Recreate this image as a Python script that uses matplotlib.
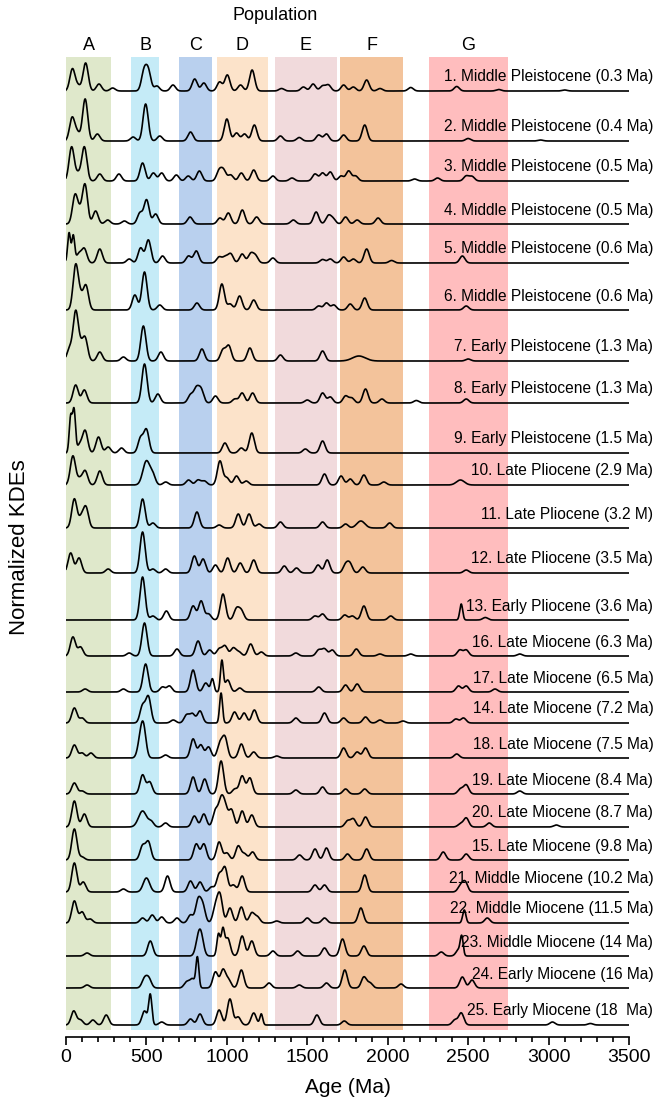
import numpy as np
import matplotlib
matplotlib.use("Agg")
import matplotlib.pyplot as plt

plt.rcParams['font.family'] = ['Liberation Sans', 'DejaVu Sans']

# population bands (Ma)
band_names = ['A', 'B', 'C', 'D', 'E', 'F', 'G']
band_start = [0, 405, 702, 936, 1298, 1702, 2255]
band_end = [281, 579, 905, 1255, 1683, 2098, 2745]
band_colors = ['#dfe8cb', '#c5ebf7', '#b9d0ee', '#fce3ca', '#f1dadc', '#f3c39b', '#ffbdbe']

# sample labels, top to bottom
sample_labels = [
    '1. Middle Pleistocene (0.3 Ma)', '2. Middle Pleistocene (0.4 Ma)',
    '3. Middle Pleistocene (0.5 Ma)', '4. Middle Pleistocene (0.5 Ma)',
    '5. Middle Pleistocene (0.6 Ma)', '6. Middle Pleistocene (0.6 Ma)',
    '7. Early Pleistocene (1.3 Ma)', '8. Early Pleistocene (1.3 Ma)',
    '9. Early Pleistocene (1.5 Ma)', '10. Late Pliocene (2.9 Ma)',
    '11. Late Pliocene (3.2 M)', '12. Late Pliocene (3.5 Ma)',
    '13. Early Pliocene (3.6 Ma)', '16. Late Miocene (6.3 Ma)',
    '17. Late Miocene (6.5 Ma)', '14. Late Miocene (7.2 Ma)',
    '18. Late Miocene (7.5 Ma)', '19. Late Miocene (8.4 Ma)',
    '20. Late Miocene (8.7 Ma)', '15. Late Miocene (9.8 Ma)',
    '21. Middle Miocene (10.2 Ma)', '22. Middle Miocene (11.5 Ma)',
    '23. Middle Miocene (14 Ma)', '24. Early Miocene (16 Ma)',
    '25. Early Miocene (18  Ma)',
]

# vertical offset of each curve
offsets = [946, 896, 856, 813, 774, 727, 676, 634, 584, 552, 509, 464, 417,
           381, 345, 314, 279, 243, 210, 177, 145, 114, 81, 49, 12]

# KDE peaks: (age Ma, height[, bandwidth])
p01 = [(40, 22), (75, 5), (122, 28), (205, 7), (290, 3), (485, 19), (512, 19), (565, 5), (665, 6),
       (800, 12), (857, 8), (955, 9), (1003, 16), (1085, 6), (1157, 21), (1340, 2.5), (1476, 4),
       (1536, 7), (1595, 5), (1631, 6), (1726, 6), (1786, 4), (1869, 11), (1952, 2.5), (2143, 3.5),
       (2429, 4.5), (2690, 1.5), (3100, 1)]
p02 = [(38, 23), (70, 8), (119, 42), (195, 7), (417, 4), (495, 37), (583, 5), (774, 9), (1000, 22),
       (1060, 8), (1110, 7), (1171, 16), (1333, 5), (1450, 3.5), (1571, 6), (1619, 7), (1726, 6),
       (1857, 16), (2500, 2.5), (2950, 1)]
p03 = [(35, 34), (75, 7), (114, 34), (210, 7), (329, 7), (476, 18), (543, 8), (595, 8), (686, 6),
       (760, 5), (829, 10), (952, 10), (980, 10), (1024, 6), (1090, 8), (1167, 11), (1286, 5),
       (1405, 3), (1548, 7), (1595, 8), (1643, 9), (1710, 5), (1757, 10), (1800, 5), (2167, 2),
       (2310, 3), (2488, 5), (2524, 4.5)]
p04 = [(56, 28), (85, 10), (118, 39), (184, 13), (259, 4), (363, 3), (460, 11), (501, 24), (557, 10),
       (771, 7), (957, 6), (1009, 11), (1096, 14), (1185, 7), (1413, 4), (1555, 12), (1631, 8),
       (1660, 5), (1738, 7), (1810, 4), (1940, 6)]
p05 = [(19, 30, 9), (45, 27, 9), (80, 9), (114, 14), (210, 14), (393, 4), (464, 15), (512, 23),
       (600, 7), (762, 7), (810, 12), (952, 6), (990, 6), (1024, 9), (1095, 9), (1148, 9), (1178, 7),
       (1286, 5), (1595, 3.5), (1643, 4), (1726, 6), (1786, 4), (1869, 14), (2024, 2.5), (2464, 7)]
p06 = [(60, 44), (90, 12), (124, 24), (428, 15), (488, 38), (583, 5), (814, 7), (969, 26), (1020, 6),
       (1079, 14), (1167, 10), (1571, 4), (1619, 7), (1665, 5), (1767, 6), (1857, 12), (2488, 4)]
p07 = [(22, 12), (60, 48), (90, 12), (119, 22), (210, 9), (357, 4), (481, 35), (590, 9), (845, 12),
       (976, 11), (1012, 15), (1143, 13), (1333, 6), (1595, 10), (1821, 5, 40), (2500, 2)]
p08 = [(60, 18), (114, 13), (488, 39), (571, 9), (774, 8), (810, 14), (840, 13), (929, 7), (1050, 4),
       (1095, 10), (1160, 10), (1500, 3), (1595, 10), (1643, 6), (1738, 7), (1776, 5), (1862, 14),
       (1964, 4), (2178, 2.5), (2488, 4)]
p09 = [(29, 36, 9), (50, 42, 9), (85, 8), (119, 22), (202, 16), (262, 6), (345, 5), (464, 15),
       (500, 23), (988, 10), (1090, 5), (1155, 20), (1488, 4), (1595, 12)]
p10 = [(43, 29), (85, 6), (119, 14), (210, 14), (500, 24, 22), (540, 9), (620, 3), (762, 5), (821, 5),
       (860, 4), (957, 24), (1000, 7), (1060, 9), (1120, 4), (1607, 11), (1710, 9), (1767, 6),
       (1852, 10), (1976, 3), (2452, 5, 25)]
p11 = [(52, 29), (95, 10), (124, 20), (476, 29), (540, 5), (814, 16), (952, 3), (1071, 14),
       (1138, 14), (1200, 4), (1333, 6), (1595, 6), (1738, 4), (1833, 7, 25), (2012, 5)]
p12 = [(29, 20), (81, 15), (262, 4), (476, 41), (540, 4), (619, 4), (798, 17), (852, 14), (929, 8),
       (1005, 15), (1083, 10), (1167, 13), (1357, 7), (1433, 5), (1567, 8), (1624, 13), (1738, 8),
       (1765, 9), (1845, 6), (2488, 3)]
p13 = [(476, 43), (540, 4), (624, 9), (790, 14), (840, 19), (886, 6), (976, 26), (1060, 11),
       (1090, 9), (1548, 4), (1595, 6), (1733, 5), (1780, 4), (1852, 14), (2019, 4), (2457, 16, 9),
       (2607, 2.5)]
p16 = [(43, 19), (90, 9), (393, 3), (488, 33), (690, 7), (821, 15), (893, 6), (952, 7), (988, 10),
       (1040, 8), (1075, 4), (1148, 12), (1214, 4), (1429, 3), (1571, 6), (1607, 7), (1655, 6),
       (1805, 7), (1952, 2), (2143, 2), (2448, 6), (2488, 6), (2821, 2)]
p17 = [(119, 3), (357, 3), (495, 28), (600, 5), (643, 6), (790, 22), (869, 9), (910, 13, 10),
       (969, 31, 9), (1005, 12), (1080, 4), (1571, 5), (1738, 7), (1810, 8), (2440, 6), (2488, 6),
       (2667, 3)]
p14 = [(52, 15), (100, 5), (476, 17), (512, 26), (667, 3), (750, 8), (786, 9), (833, 12),
       (964, 30, 9), (1048, 11), (1107, 10), (1171, 13), (1429, 5), (1607, 10), (1726, 5), (1862, 6),
       (1952, 3), (2095, 2), (2424, 4), (2471, 5)]
p18 = [(52, 13), (100, 5), (155, 5), (460, 14), (481, 30), (619, 3), (790, 19), (838, 13), (886, 11),
       (957, 14), (988, 20), (1090, 14), (1167, 6), (1310, 2), (1726, 10), (1810, 6), (1862, 10),
       (2429, 4)]
p19 = [(52, 11), (100, 3), (476, 19), (520, 12), (790, 17), (862, 15), (964, 33), (1050, 5),
       (1095, 18), (1143, 16), (1429, 4), (1595, 7), (1738, 5), (1857, 5), (2452, 5), (2488, 9),
       (2821, 3)]
p20 = [(52, 26), (114, 13), (476, 16, 25), (530, 5), (619, 4), (798, 11), (857, 13), (929, 16),
       (964, 25), (990, 18), (1029, 17), (1095, 16), (1155, 12), (1750, 6), (1786, 8), (1862, 10),
       (2452, 3), (2488, 9), (2631, 4), (3048, 2)]
p15 = [(52, 31), (100, 3), (476, 14), (512, 18), (810, 16), (857, 16), (952, 18), (1000, 7),
       (1071, 14), (1110, 6), (1160, 8), (1452, 5), (1548, 11), (1619, 12), (1750, 6), (1869, 11),
       (2345, 8), (2488, 6)]
p21 = [(52, 29), (107, 10), (357, 3), (500, 14, 20), (631, 16), (774, 11), (833, 10), (905, 5),
       (952, 17), (988, 24), (1040, 7), (1095, 16), (1548, 7), (1607, 7), (1857, 17), (2452, 6),
       (2481, 10)]
p22 = [(52, 22), (100, 11), (150, 4), (476, 5), (536, 8), (595, 6), (690, 5), (774, 8), (821, 22),
       (850, 17), (929, 15), (957, 27), (1019, 15), (1090, 16), (1155, 10), (1190, 6), (1310, 2),
       (1500, 5), (1607, 5), (1833, 15), (2476, 13, 10), (2619, 5)]
p23 = [(131, 3), (524, 15), (821, 14), (840, 18), (948, 22, 10), (975, 25, 10), (1005, 18),
       (1095, 20), (1155, 15), (1286, 5), (1440, 5), (1607, 8), (1719, 17), (1852, 10), (2333, 4),
       (2440, 6), (2460, 18, 9)]
p24 = [(131, 3), (488, 9), (515, 9), (750, 6), (786, 9), (817, 30, 9), (929, 16), (976, 18),
       (1010, 8), (1090, 18), (1262, 5), (1450, 3), (1619, 5), (1733, 18), (1852, 11), (1890, 5),
       (2083, 4), (2464, 11), (2524, 8)]
p25 = [(48, 14), (90, 5), (167, 5), (250, 10), (488, 14), (524, 30, 10), (595, 3), (774, 6),
       (833, 11), (952, 15), (1019, 26), (1070, 8), (1167, 12), (1214, 11, 9), (1560, 10), (1730, 4),
       (2417, 5), (2457, 12), (3024, 3), (3260, 1.5)]

peak_sets = [p01, p02, p03, p04, p05, p06, p07, p08, p09, p10, p11, p12, p13,
             p16, p17, p14, p18, p19, p20, p15, p21, p22, p23, p24, p25]


def kde_curve(ages, peaks, bw=16.0):
    y = np.zeros_like(ages)
    for pk in peaks:
        s = pk[2] if len(pk) > 2 else bw
        y += pk[1] * np.exp(-0.5 * ((ages - pk[0]) / s) ** 2)
    return y


fig = plt.figure(figsize=(6.55, 11.07), dpi=100)
ax = fig.add_axes([66 / 655, 70 / 1107, 563 / 655, 980 / 1107])

for name, a, b, c in zip(band_names, band_start, band_end, band_colors):
    ax.fill_betweenx([7, 980], a, b, color=c, lw=0, zorder=0)
    ax.text((a + b) / 2, 991, name, ha='center', va='center', fontsize=13, clip_on=False)

ax.text(1300, 1021, 'Population', ha='center', va='center', fontsize=13, clip_on=False)

x = np.linspace(0, 3500, 3501)
for lab, off, pk in zip(sample_labels, offsets, peak_sets):
    ax.plot(x, off + kde_curve(x, pk), color='black', lw=1.2, zorder=3)
    ax.text(3651, off + 14, lab, ha='right', va='center', fontsize=11.2, clip_on=False, zorder=4)

ax.set_xlim(0, 3500)
ax.set_ylim(0, 980)
ax.set_xticks(range(0, 3501, 500))
ax.set_xticks(range(0, 3501, 100), minor=True)
ax.set_yticks([])
for s in ['top', 'right', 'left']:
    ax.spines[s].set_visible(False)
ax.spines['bottom'].set_linewidth(1.2)
ax.tick_params(axis='x', which='major', length=6, width=1.2, labelsize=14, pad=3)
ax.tick_params(axis='x', which='minor', length=3.5, width=1.2)
ax.set_xlabel('Age (Ma)', fontsize=15, labelpad=8)
ax.patch.set_alpha(0)

fig.text(20 / 655, 1 - 547 / 1107, 'Normalized KDEs', rotation=90, ha='center', va='center',
         fontsize=16)

fig.savefig('out.png', dpi=100)
